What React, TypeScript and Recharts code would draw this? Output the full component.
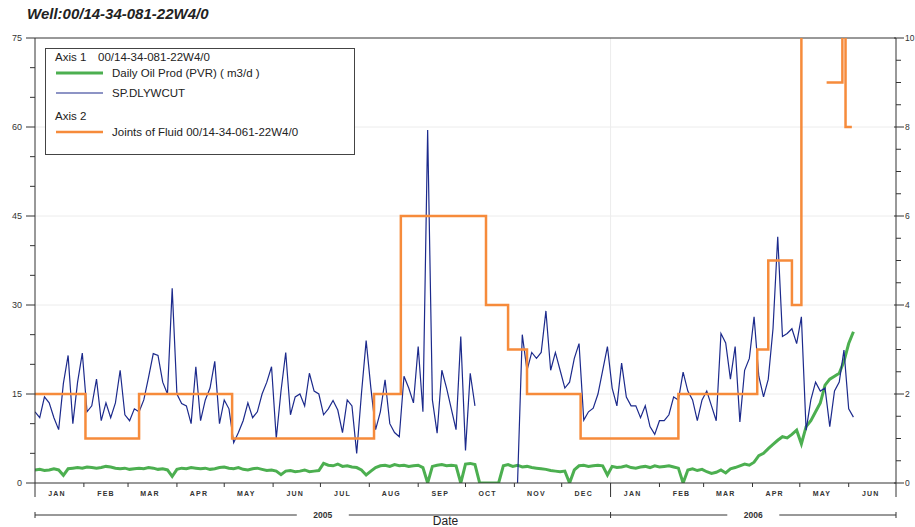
import { LineChart, Line, XAxis, YAxis, ReferenceLine, Legend } from "recharts"

const FONT = '"Liberation Sans", Arial, sans-serif'

// axis calendar (days counted from 2005-01-01)
const monthLabels = ["JAN", "FEB", "MAR", "APR", "MAY", "JUN", "JUL", "AUG", "SEP", "OCT", "NOV", "DEC", "JAN", "FEB", "MAR", "APR", "MAY", "JUN"]
const monthStarts = [0, 31, 59, 90, 120, 151, 181, 212, 243, 273, 304, 334, 365, 396, 424, 455, 485, 516, 546]
const yearStarts = [0, 365, 546]
const yearLabels = ["2005", "2006"]

// readings every 3 days, starting 2005-01-01
const SAMPLE_STEP = 3

// SP.DLYWCUT (axis 1)
const waterCut = [
  12, 11, 14.5, 13.5, 11, 9, 16.8, 21.5, 10, 17, 21.9, 12, 13, 17.5, 10.5, 13.5, 11, 13.5, 19, 11.5,
  10.5, 12.5, 12, 14, 17.8, 21.8, 21.5, 17, 15, 32.8, 15, 13.4, 13, 10, 19.6, 10.5, 14, 16, 20.5, 10,
  14, 12.5, 6.8, 8.5, 10.5, 13.5, 11, 12, 15, 17, 19.6, 7.5, 15.5, 22, 11.5, 14.5, 15, 13, 18.5, 15.5,
  15, 11.5, 12.5,
  13.9, 12.3, 8.5, 14, 13, 5, 15, 24, 16, 9, 12, 17.4, 10, 8.5, 7.8, 18, 16, 13.5, 23, 12,
  59.5, 14, 8.4, 19, 16, 12.5, 9, 24.7, 5.5, 18.5, 13,
  null, null, null, null, null, null, null, null,
  0, 25, 19, 22, 21, 22, 29, 19, 22, 19, 16, 17, 21, 23.5, 10.6, 12, 12.6, 15, 19, 23, 16, 13,
  20.2, 14.5, 13, 13, 11, 13, 9.5, 8.2, 10.5, 10.5, 11.5, 14.5, 14, 18.7, 15.5, 14, 10.5, 14, 15.5, 13,
  10.5, 25.2, 23.6, 17.5, 23, 10.3, 19, 21, 28, 18, 14.5, 17.5, 26, 41.5, 24.7, 25.2, 26, 23.5, 28, 8.9,
  14, 17, 15.5, 16, 9.5, 15.5, 17, 22.4, 12.5, 11.1,
]

// Daily Oil Prod (PVR) m3/d (axis 1)
const oilRate = [
  2.2, 2.3, 2.1, 2.2, 2.4, 2.2, 1.3,
  2.4, 2.5, 2.6, 2.5, 2.7, 2.6, 2.5, 2.6, 2.8, 2.7, 2.5, 2.4, 2.5, 2.3, 2.4, 2.5, 2.4, 2.6, 2.5, 2.3, 2.4, 2.2,
  1.1,
  2.3, 2.5, 2.4, 2.6, 2.5, 2.4, 2.5, 2.3, 2.4, 2.6, 2.7, 2.5, 2.4, 2.6, 2.3, 2.2, 2.4, 2.5, 2.3, 2.1, 2.2, 2.0,
  1.4,
  2.0, 2.1, 1.9, 2.0, 2.2, 1.9, 2.0, 2.1,
  3.3,
  3.0, 2.9, 3.2, 2.8, 2.9, 2.7, 2.6, 2.2,
  1.35,
  2.0, 2.6, 2.9, 3.0, 2.8, 3.1, 2.9, 3.0, 2.8, 2.9, 3.0, 2.6,
  0,
  2.8, 3.0, 3.1, 2.9, 3.0, 2.9,
  0,
  3.2, 3.3, 3.1,
  0, 0, 0, 0, 0,
  2.9, 3.1, 2.8, 3.0, 2.7, 2.8, 2.6,
  2.5, 2.4, 2.3, 2.1, 2.0, 1.9, 2.0,
  0,
  2.2, 2.9, 3.0, 2.8, 2.9, 3.0, 2.9,
  1.35,
  2.8, 2.6, 2.7, 2.9, 2.6, 2.5, 2.7, 2.8, 2.6, 2.9, 2.7, 2.8, 2.9, 2.7, 2.5,
  0,
  2.2, 2.4, 2.1, 2.3, 1.9, 1.6, 1.8, 2.2, 1.7, 2.4, 2.6,
  2.9, 3.2, 3.0, 3.5,
  4.6, 5.0, 5.8, 6.5, 7.2, 7.8, 7.6, 8.2, 8.9, 6.6, 9.5, 10.5, 12, 13.5, 16.5, 17.5, 18, 18.5, 20.5, 23.5, 25.5,
]

// Joints of Fluid (axis 2), value holds from each day until the next; null = no record
const jointDays = [0, 32, 66, 125, 215, 232, 286, 300, 312, 346, 408, 458, 465, 480, 486, 490, 502, 512, 514, 518]
const jointCounts = [2, 1, 2, 1, 2, 6, 4, 3, 2, 1, 2, 3, 5, 4, 11, null, 9, 11, 8, 8]

const cutRows = waterCut.map((v, i) => ({ day: i * SAMPLE_STEP, value: v }))
const oilRows = oilRate.map((v, i) => ({ day: i * SAMPLE_STEP, value: v }))
const jointRows = jointDays.map((d, i) => ({ day: d, value: jointCounts[i] }))

const labelDays = monthStarts.slice(0, -1).map((d) => d + 14)
const monthTicks = [...monthStarts, ...labelDays].sort((a, b) => a - b)
const yearMids = yearStarts.slice(0, -1).map((d, i) => (d + yearStarts[i + 1]) / 2)
const yearTicks = [...yearStarts, ...yearMids].sort((a, b) => a - b)
const leftTicks = Array.from({ length: 16 }, (_, i) => i * 5)
const rightTicks = Array.from({ length: 21 }, (_, i) => i * 0.5)

function LeftTick({ x, y, payload }: any) {
  const v = payload.value
  const major = v % 15 === 0
  return (
    <g>
      <line x1={x - (major ? 9 : 5)} x2={x} y1={y} y2={y} stroke="#333" />
      {major && (
        <text x={x - 13} y={y + 3} textAnchor="end" fontSize={9} fill="#333" fontFamily={FONT}>
          {v}
        </text>
      )}
    </g>
  )
}

function RightTick({ x, y, payload }: any) {
  const v = payload.value
  const major = v % 2 === 0
  return (
    <g>
      <line x1={major ? x - 2 : x} x2={x + (major ? 8 : 5)} y1={y} y2={y} stroke="#333" />
      {major && (
        <text x={x + 9} y={y + 3} fontSize={8.5} fill="#333" fontFamily={FONT}>
          {v}
        </text>
      )}
    </g>
  )
}

function MonthTick({ x, y, payload }: any) {
  const v = payload.value
  if (monthStarts.includes(v)) {
    const long = yearStarts.includes(v)
    return <line x1={x} x2={x} y1={y} y2={y + (long ? 14 : 4)} stroke="#333" />
  }
  return (
    <text x={x} y={y + 13} textAnchor="middle" fontSize={7} fontWeight="bold" letterSpacing={1.2} fill="#333" fontFamily={FONT}>
      {monthLabels[labelDays.indexOf(v)]}
    </text>
  )
}

function YearTick({ x, y, payload }: any) {
  const v = payload.value
  if (yearStarts.includes(v)) {
    return <line x1={x} x2={x} y1={y - 3} y2={y + 3} stroke="#333" />
  }
  return (
    <g>
      <rect x={x - 26} y={y - 5} width={52} height={10} fill="#fff" />
      <text x={x} y={y + 3} textAnchor="middle" fontSize={8.5} fontWeight="bold" fill="#333" fontFamily={FONT}>
        {yearLabels[yearMids.indexOf(v)]}
      </text>
    </g>
  )
}

function LegendBox({ payload }: any) {
  const items = payload || []
  const axis1 = items.filter((p: any) => p.payload?.yAxisId === "left")
  const axis2 = items.filter((p: any) => p.payload?.yAxisId === "right")
  const rows: any[] = []
  let y = 13
  const group = (title: string, sub: string, list: any[]) => {
    rows.push(
      <text key={title} x={10} y={y} fontSize={11.5} fill="#222">
        {title}
        <tspan x={53}>{sub}</tspan>
      </text>
    )
    y += 16
    list.forEach((p: any) => {
      rows.push(
        <g key={p.value}>
          <line x1={11} x2={58} y1={y - 4} y2={y - 4} stroke={p.color} strokeWidth={p.payload?.strokeWidth || 2} />
          <text x={67} y={y} fontSize={11.5} fill="#222">
            {p.value}
          </text>
        </g>
      )
      y += 20
    })
    y += 3
  }
  group("Axis 1", "00/14-34-081-22W4/0", axis1)
  group("Axis 2", "", axis2)
  return (
    <svg width={310} height={107} style={{ display: "block", fontFamily: FONT }}>
      <rect x={0.5} y={0.5} width={309} height={106} fill="#fff" stroke="#444" />
      {rows}
    </svg>
  )
}

export default function App() {
  return (
    <div style={{ position: "absolute", left: 0, top: 0, width: 915, height: 527, background: "#fff", fontFamily: FONT }}>
      <div style={{ position: "absolute", left: 27, top: 5, fontSize: 15, fontWeight: "bold", fontStyle: "italic", color: "#222" }}>
        Well:00/14-34-081-22W4/0
      </div>
      <LineChart width={915} height={527} margin={{ top: 38, right: 0, bottom: 0, left: 0 }}>
        <XAxis
          xAxisId="month"
          dataKey="day"
          type="number"
          domain={[0, 546]}
          allowDataOverflow
          ticks={monthTicks}
          interval={0}
          height={32}
          tickSize={0}
          tickMargin={0}
          tick={MonthTick}
          axisLine={{ stroke: "#333" }}
        />
        <XAxis
          xAxisId="year"
          dataKey="day"
          type="number"
          domain={[0, 546]}
          allowDataOverflow
          ticks={yearTicks}
          interval={0}
          height={12}
          tickSize={0}
          tickMargin={0}
          tick={YearTick}
          axisLine={{ stroke: "#333" }}
          label={{ value: "Date", position: "center", dx: -20, dy: 0, fontSize: 12, fill: "#222" }}
        />
        <YAxis
          yAxisId="left"
          domain={[0, 75]}
          allowDataOverflow
          ticks={leftTicks}
          interval={0}
          width={35}
          tickSize={0}
          tickMargin={0}
          tick={LeftTick}
          axisLine={{ stroke: "#333" }}
        />
        <YAxis
          yAxisId="right"
          orientation="right"
          domain={[0, 10]}
          allowDataOverflow
          ticks={rightTicks}
          interval={0}
          width={19}
          tickSize={0}
          tickMargin={0}
          tick={RightTick}
          axisLine={{ stroke: "#333" }}
        />
        {[15, 30, 45, 60].map((v) => (
          <ReferenceLine key={v} xAxisId="month" yAxisId="left" y={v} stroke="#ececec" />
        ))}
        <ReferenceLine xAxisId="month" yAxisId="left" x={365} stroke="#ececec" />
        <ReferenceLine xAxisId="month" yAxisId="left" y={75} stroke="#333" />
        <Legend
          layout="vertical"
          align="center"
          verticalAlign="middle"
          wrapperStyle={{ left: 45, top: 48, width: 310, height: 107 }}
          content={LegendBox}
        />
        <Line
          xAxisId="month"
          yAxisId="left"
          data={oilRows}
          dataKey="value"
          name="Daily Oil Prod (PVR) ( m3/d )"
          type="linear"
          stroke="#4caf50"
          strokeWidth={3}
          dot={false}
          isAnimationActive={false}
        />
        <Line
          xAxisId="month"
          yAxisId="left"
          data={cutRows}
          dataKey="value"
          name="SP.DLYWCUT"
          type="linear"
          stroke="#1c2a8c"
          strokeWidth={1.2}
          dot={false}
          isAnimationActive={false}
        />
        <Line
          xAxisId="month"
          yAxisId="right"
          data={jointRows}
          dataKey="value"
          name="Joints of Fluid 00/14-34-061-22W4/0"
          type="stepAfter"
          stroke="#f68b3b"
          strokeWidth={2.5}
          dot={false}
          isAnimationActive={false}
        />
      </LineChart>
    </div>
  )
}
